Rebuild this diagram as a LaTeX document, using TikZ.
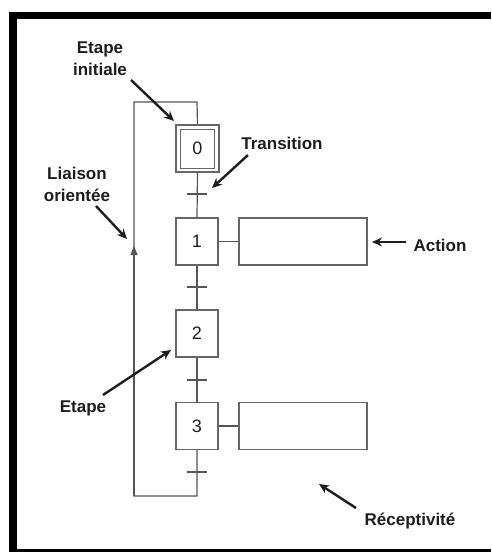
\documentclass[tikz,border=0pt]{standalone}
\usepackage{fontspec}
\setmainfont{Liberation Sans}
\usetikzlibrary{arrows.meta}
\definecolor{ink}{HTML}{1E1E1E}
\definecolor{wire}{HTML}{555555}
\definecolor{boxline}{HTML}{666666}
\begin{document}
\begin{tikzpicture}[x=1pt,y=-1pt,
  stepbox/.style={draw=boxline,line width=1.4pt,fill=white,minimum width=42pt,minimum height=47pt,inner sep=0pt,
    font=\fontsize{18}{18}\selectfont,text=ink},
  actbox/.style={draw=boxline,line width=1.4pt,fill=white,minimum width=128pt,minimum height=47pt,inner sep=0pt},
  link/.style={draw=wire,line width=1.2pt},
  tick/.style={draw=wire,line width=1.2pt},
  label/.style={font=\bfseries\fontsize{17}{22}\selectfont,text=ink,align=center,inner sep=0pt},
  pointer/.style={draw=ink,line width=2.4pt,-{Stealth[length=10pt,width=9pt]}}
]
\useasboundingbox (0,0) rectangle (491,552);
\fill[white] (0,0) rectangle (491,552);
% frame
\fill[black] (9,12) rectangle (491,19);
\fill[black] (9,12) rectangle (17,552);
\fill[black] (9,549) rectangle (491,552);

% steps
\node[stepbox,minimum width=43pt] (s0) at (197.5,148.5) {0};
\draw[draw=boxline,line width=1.4pt] ([shift={(5,5)}]s0.north west) rectangle ([shift={(-5,-4)}]s0.south east);
\node[stepbox] (s1) at (197,241.5) {1};
\node[stepbox] (s2) at (197,333.5) {2};
\node[stepbox] (s3) at (197,426) {3};

% actions
\node[actbox] (a1) at (303,241.5) {};
\node[actbox] (a3) at (303,426) {};
\draw[link] (s1.east) -- (a1.west);
\draw[link] (s3.east) -- (a3.west);

% links between steps, with transitions
\draw[link] (s0.south) -- (s1.north);
\draw[link] (s1.south) -- (s2.north);
\draw[link] (s2.south) -- (s3.north);
\coordinate (t0) at (197,194);
\coordinate (t1) at (197,287);
\coordinate (t2) at (197,380);
\coordinate (t3) at (197,472);
\foreach \t in {t0,t1,t2,t3}
  \draw[tick] ([xshift=-10pt]\t) -- ([xshift=10pt]\t);

% return loop
\coordinate (loopBR) at (197,496);
\coordinate (loopBL) at (134,496);
\coordinate (loopTL) at (134,102);
\coordinate (loopTR) at (197,102);
\coordinate (loopArrow) at (134,246);
\draw[link] (s3.south) -- (loopBR) -- (loopBL) -- (loopTL) -- (loopTR) -- (s0.north);
\draw[link,-{Triangle[length=9pt,width=7pt]}] (loopBL) -- (loopArrow);

% labels
\node[label] (lInit) at (100,59) {Etape\\initiale};
\node[label] (lTrans) at (282,143) {Transition};
\node[label] (lLiaison) at (77,184) {Liaison\\orientée};
\node[label] (lEtape) at (83,408) {Etape};
\node[label] (lAction) at (440,245) {Action};
\node[label] (lRecep) at (410,521) {Réceptivité};

% pointers
\coordinate (pInitA) at (131,80);   \coordinate (pInitB) at (174,121);
\coordinate (pTransA) at (248,155); \coordinate (pTransB) at (212,188);
\coordinate (pLiaA) at (96,206);    \coordinate (pLiaB) at (127,239);
\coordinate (pEtA) at (103,395);    \coordinate (pEtB) at (171,350);
\coordinate (pActA) at (406,242);   \coordinate (pActB) at (372,242);
\coordinate (pRecA) at (356,508);   \coordinate (pRecB) at (319,484);
\draw[pointer] (pInitA) -- (pInitB);
\draw[pointer] (pTransA) -- (pTransB);
\draw[pointer] (pLiaA) -- (pLiaB);
\draw[pointer] (pEtA) -- (pEtB);
\draw[pointer] (pActA) -- (pActB);
\draw[pointer] (pRecA) -- (pRecB);
\end{tikzpicture}
\end{document}
